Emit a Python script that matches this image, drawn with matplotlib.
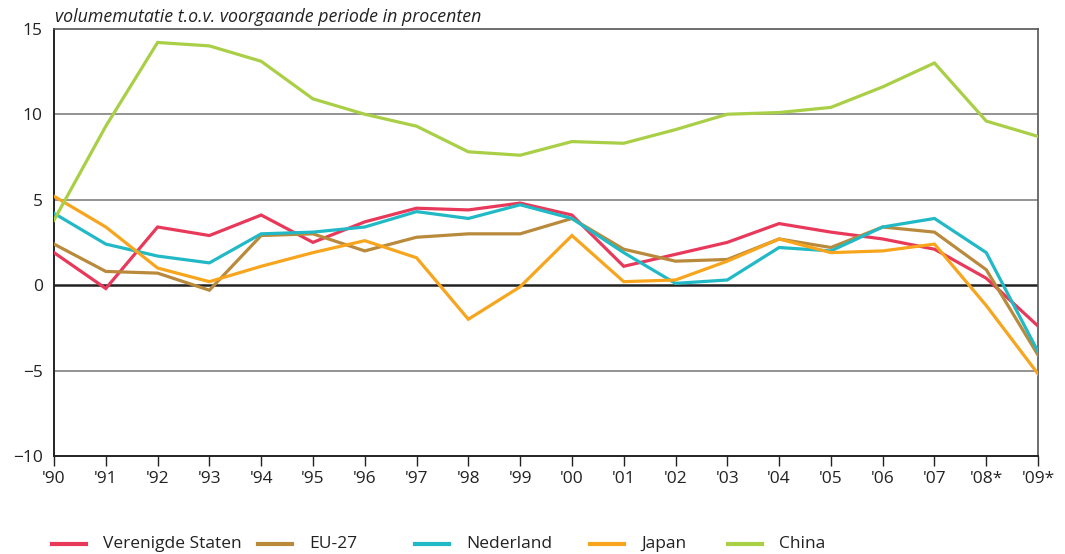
import matplotlib
matplotlib.use("Agg")
import matplotlib.pyplot as plt
from matplotlib.lines import Line2D

plt.rcParams['font.family'] = ['Open Sans', 'DejaVu Sans']

years = ["'90", "'91", "'92", "'93", "'94", "'95", "'96", "'97", "'98", "'99",
         "'00", "'01", "'02", "'03", "'04", "'05", "'06", "'07", "'08*", "'09*"]

verenigde_staten = [1.9, -0.2, 3.4, 2.9, 4.1, 2.5, 3.7, 4.5, 4.4, 4.8,
                    4.1, 1.1, 1.8, 2.5, 3.6, 3.1, 2.7, 2.1, 0.4, -2.4]
eu27 = [2.4, 0.8, 0.7, -0.3, 2.9, 3.0, 2.0, 2.8, 3.0, 3.0,
        3.9, 2.1, 1.4, 1.5, 2.7, 2.2, 3.4, 3.1, 0.9, -4.1]
nederland = [4.2, 2.4, 1.7, 1.3, 3.0, 3.1, 3.4, 4.3, 3.9, 4.7,
             3.9, 1.9, 0.1, 0.3, 2.2, 2.0, 3.4, 3.9, 1.9, -3.9]
japan = [5.2, 3.4, 1.0, 0.2, 1.1, 1.9, 2.6, 1.6, -2.0, -0.1,
         2.9, 0.2, 0.3, 1.4, 2.7, 1.9, 2.0, 2.4, -1.2, -5.2]
china = [3.8, 9.3, 14.2, 14.0, 13.1, 10.9, 10.0, 9.3, 7.8, 7.6,
         8.4, 8.3, 9.1, 10.0, 10.1, 10.4, 11.6, 13.0, 9.6, 8.7]

series = [
    ("Verenigde Staten", verenigde_staten, "#e8395b"),
    ("EU-27", eu27, "#b98a3c"),
    ("Nederland", nederland, "#22b9c6"),
    ("Japan", japan, "#f8a51e"),
    ("China", china, "#a9cf46"),
]
# legend handle start positions (pixels from left)
legend_x = [52, 258, 415, 590, 728]

W, H = 1065, 554
fig = plt.figure(figsize=(W / 100, H / 100), dpi=100)
ax = fig.add_axes([0.0507, 0.177, 0.924, 0.771])

x = list(range(len(years)))

# gridlines
for yv in (-5, 5, 10):
    ax.axhline(yv, color="#808080", lw=1.2, zorder=1)
ax.axhline(0, color="#222222", lw=1.8, zorder=1)

for name, vals, col in series:
    ax.plot(x, vals, color=col, lw=2.3, label=name, zorder=3, solid_joinstyle="miter")

ax.set_xlim(0, len(years) - 1)
ax.set_ylim(-10, 15)
ax.set_yticks([-10, -5, 0, 5, 10, 15])
ax.set_yticklabels(["\u221210", "\u22125", "0", "5", "10", "15"])
ax.set_xticks(x)
ax.set_xticklabels(years)
ax.tick_params(axis="y", length=0, pad=8, labelsize=12.5, colors="#222222")
ax.tick_params(axis="x", length=7, width=1, pad=4, labelsize=12.5, colors="#222222", direction="out")

for side in ("top", "right"):
    ax.spines[side].set_color("#555555")
    ax.spines[side].set_linewidth(1.2)
for side in ("left", "bottom"):
    ax.spines[side].set_color("#222222")
    ax.spines[side].set_linewidth(1.4)

fig.text(0.052, 0.97, "volumemutatie t.o.v. voorgaande periode in procenten",
         fontsize=12.8, style="italic", color="#222222", va="center", ha="left")

# legend, placed by hand like the original
ly = 1 - 544 / H
for (name, vals, col), px in zip(series, legend_x):
    fig.add_artist(Line2D([px / W, (px + 34) / W], [ly, ly], color=col, lw=3,
                          transform=fig.transFigure))
    fig.text((px + 51) / W, ly, name, fontsize=12.5, color="#222222",
             va="center", ha="left")

fig.savefig("out.png", dpi=100)
